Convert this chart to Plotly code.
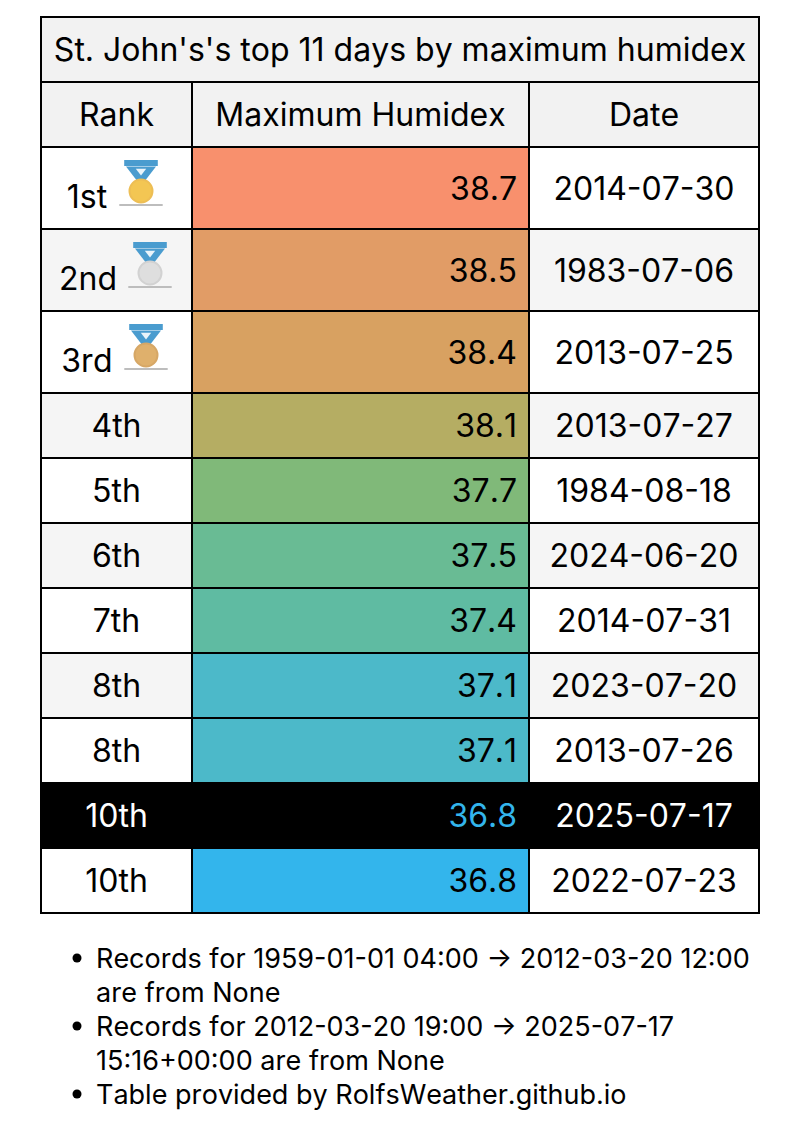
import plotly.graph_objects as go

# ---- data ----
title = "St. John's's top 11 days by maximum humidex"
headers = ["Rank", "Maximum Humidex", "Date"]
ranks = ["1st", "2nd", "3rd", "4th", "5th", "6th", "7th", "8th", "8th", "10th", "10th"]
humidex = [38.7, 38.5, 38.4, 38.1, 37.7, 37.5, 37.4, 37.1, 37.1, 36.8, 36.8]
dates = ["2014-07-30", "1983-07-06", "2013-07-25", "2013-07-27", "1984-08-18", "2024-06-20",
         "2014-07-31", "2023-07-20", "2013-07-26", "2025-07-17", "2022-07-23"]
notes = [
    ["Records for 1959-01-01 04:00 → 2012-03-20 12:00", "are from None"],
    ["Records for 2012-03-20 19:00 → 2025-07-17", "15:16+00:00 are from None"],
    ["Table provided by RolfsWeather.github.io"],
]

# ---- styles ----
value_colors = ["#F8906D", "#E19C66", "#D8A161", "#B5AD63", "#80B979", "#69BB94",
                "#5FBBA2", "#4CB9C9", "#4CB9C9", "#000000", "#33B5EC"]
highlight_row = 9
FONT = "Inter"
FS = 32
FS_NOTE = 27
HEAD_BG = "#F2F2F2"
ZEBRA = "#F5F5F5"
LINE = dict(color="black", width=2)

# ---- layout geometry (pixels) ----
X_EDGES = [41, 192, 529, 759]
Y_TOP = 17
HEAD_H = 65
TALL_H = 82
ROW_H = 65
DY = 3  # text sits slightly below the cell centre

heights = [TALL_H if i < 3 else ROW_H for i in range(len(ranks))]
tops = []
y = Y_TOP + 2 * HEAD_H
for h in heights:
    tops.append(y)
    y += h
centers = [t + h / 2 for t, h in zip(tops, heights)]
text_y = [c + DY + (1 if i < 3 else 0) for i, c in enumerate(centers)]

def row_bg(i):
    if i == highlight_row:
        return "#000000"
    return ZEBRA if i % 2 == 1 else "#FFFFFF"

fig = go.Figure()

def cells(left, right, ys, hs, colors):
    fig.add_trace(go.Bar(
        orientation="h", y=ys, x=[right - left] * len(ys), base=left, width=hs,
        marker=dict(color=colors, line=LINE), hoverinfo="skip", showlegend=False))

def texts(xs, ys, labels, pos="middle center", color="black", size=FS):
    fig.add_trace(go.Scatter(
        x=xs, y=ys, text=labels, mode="text", textposition=pos,
        textfont=dict(family=FONT, size=size, color=color),
        hoverinfo="skip", showlegend=False))

def markers(xs, ys, **marker):
    fig.add_trace(go.Scatter(x=xs, y=ys, mode="markers", marker=marker,
                             hoverinfo="skip", showlegend=False))

# title row and header row
cells(X_EDGES[0], X_EDGES[3], [Y_TOP + HEAD_H / 2], [HEAD_H], [HEAD_BG])
for k in range(3):
    cells(X_EDGES[k], X_EDGES[k + 1], [Y_TOP + 1.5 * HEAD_H], [HEAD_H], [HEAD_BG])

# body columns
bg = [row_bg(i) for i in range(len(ranks))]
cells(X_EDGES[0], X_EDGES[1], centers, heights, bg)
cells(X_EDGES[1], X_EDGES[2], centers, heights, value_colors)
cells(X_EDGES[2], X_EDGES[3], centers, heights, bg)

# title / header text
texts([(X_EDGES[0] + X_EDGES[3]) / 2], [Y_TOP + HEAD_H / 2 + DY], [title])
texts([(X_EDGES[k] + X_EDGES[k + 1]) / 2 for k in range(3)], [Y_TOP + 1.5 * HEAD_H + DY] * 3, headers)

# body text
rank_cx = [87, 88, 87] + [(X_EDGES[0] + X_EDGES[1]) / 2] * (len(ranks) - 3)
rank_cy = [c + (8 if i < 3 else 0) for i, c in enumerate(text_y)]
txt_col = ["white" if i == highlight_row else "black" for i in range(len(ranks))]
val_col = ["#33B5EC" if i == highlight_row else "black" for i in range(len(ranks))]
texts(rank_cx, rank_cy, ranks, color=txt_col)
texts([517] * len(humidex), text_y, [f"{v:.1f}" for v in humidex], pos="middle left", color=val_col)
texts([(X_EDGES[2] + X_EDGES[3]) / 2] * len(dates), text_y, dates, color=txt_col)

# medals
medal_x = [141, 150, 146]
medal_fill = ["#F3C653", "#DEDEDE", "#DFB06C"]
medal_edge = ["#EDBE55", "#D2D2D2", "#D6A766"]
medal_y0 = tops[:3]
markers(medal_x, [t + 58 for t in medal_y0], symbol="line-ew", size=31,
        line=dict(color="#BDBDBD", width=2))
markers(medal_x, [t + 16 for t in medal_y0], symbol="line-ew", size=24,
        line=dict(color="#4A9CCF", width=6))
markers(medal_x, [t + 26 for t in medal_y0], symbol="triangle-down", size=26, color="#4A9CCF")
markers(medal_x, [t + 24 for t in medal_y0], symbol="triangle-down", size=9, color="#EAF4FA")
markers(medal_x, [t + 44 for t in medal_y0], symbol="circle", size=23, color=medal_fill,
        line=dict(color=medal_edge, width=2))

# notes
NOTE_X, BULLET_X = 96, 77
NOTE_Y = 958
LINE_STEP = 34
note_lines, note_ys, bullet_ys = [], [], []
yy = NOTE_Y
for n in notes:
    bullet_ys.append(yy)
    for ln in n:
        note_lines.append(ln)
        note_ys.append(yy)
        yy += LINE_STEP
texts([NOTE_X] * len(note_lines), [v + 3.5 for v in note_ys], note_lines, pos="middle right", size=FS_NOTE)
markers([BULLET_X] * len(bullet_ys), bullet_ys, symbol="circle", size=9, color="black")

fig.update_layout(
    width=800, height=1137, margin=dict(l=0, r=0, t=0, b=0),
    paper_bgcolor="white", plot_bgcolor="white", barmode="overlay",
    xaxis=dict(range=[0, 800], visible=False, fixedrange=True),
    yaxis=dict(range=[1137, 0], visible=False, fixedrange=True),
)
fig.write_html("out.html", config={"displayModeBar": False},
               post_script="document.body.style.margin='0';document.body.style.overflow='hidden';"
                           "var s=document.createElement('style');"
                           "s.textContent='svg text{font-kerning:none !important}';"
                           "document.head.appendChild(s);")
